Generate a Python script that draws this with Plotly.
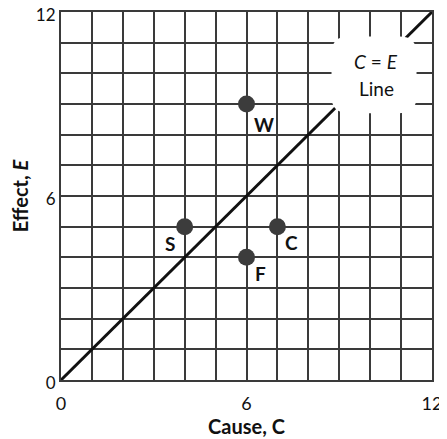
import plotly.graph_objects as go

# Data
cause = [6, 4, 7, 6]
effect = [9, 5, 5, 4]
labels = ["W", "S", "C", "F"]
label_dx = [17, -15, 14, 14]
label_dy = [-20, -17, -16, -16]
line_c = [0, 12]
line_e = [0, 12]
x_ticks = [0, 6, 12]
y_ticks = [0, 6, 12]

FONT = "Lato, 'Open Sans', sans-serif"
GRID = "#3a3a3a"

fig = go.Figure()
fig.add_trace(go.Scatter(x=line_c, y=line_e, mode="lines",
                         line=dict(color="#111111", width=3), hoverinfo="skip"))
fig.add_trace(go.Scatter(x=cause, y=effect, mode="markers",
                         marker=dict(size=17, color="#3c3c3c"), hoverinfo="skip"))

for c, e, t, dx, dy in zip(cause, effect, labels, label_dx, label_dy):
    fig.add_annotation(x=c, y=e, text="<b>%s</b>" % t, showarrow=False,
                       xshift=dx, yshift=dy,
                       font=dict(family=FONT, size=19, color="#111111"))

# white legend blob covering grid
x0, x1, y0, y1, r = 8.75, 11.5, 8.7, 11.2, 0.55
path = (f"M {x0+r},{y0} L {x1-r},{y0} Q {x1},{y0} {x1},{y0+r} "
        f"L {x1},{y1-r} Q {x1},{y1} {x1-r},{y1} L {x0+r},{y1} "
        f"Q {x0},{y1} {x0},{y1-r} L {x0},{y0+r} Q {x0},{y0} {x0+r},{y0} Z")
fig.add_shape(type="path", path=path, fillcolor="white", line=dict(width=0),
              layer="above")
fig.add_annotation(x=10.2, y=10.37, text="<i>C</i> = <i>E</i>", showarrow=False,
                   font=dict(family=FONT, size=19, color="#111111"))
fig.add_annotation(x=10.2, y=9.52, text="Line", showarrow=False,
                   font=dict(family=FONT, size=19, color="#111111"))

# page body has an 8px default margin, so the figure is sized to fit inside it
fig.update_layout(
    width=439, height=431,
    margin=dict(l=53, r=15, t=4, b=59, autoexpand=False),
    paper_bgcolor="white", plot_bgcolor="white",
    showlegend=False,
    font=dict(family=FONT, size=18, color="#111111"),
)
fig.update_xaxes(range=[0, 12], showgrid=True, gridcolor=GRID,
                 gridwidth=2, showline=True, linecolor=GRID, linewidth=2, mirror=True,
                 zeroline=False, tickmode="array", tickvals=x_ticks,
                 ticktext=[str(v) for v in x_ticks], ticks="", ticklabelstandoff=6,
                 tickfont=dict(size=18), automargin=False, ticklabeloverflow="allow",
                 title=dict(text="<b>Cause, C</b>", font=dict(size=20), standoff=2))
fig.update_yaxes(range=[0, 12], showgrid=True, gridcolor=GRID,
                 gridwidth=2, showline=True, linecolor=GRID, linewidth=2, mirror=True,
                 zeroline=False, tickmode="array", tickvals=y_ticks,
                 ticktext=[str(v) for v in y_ticks], ticks="", ticklabelshift=3,
                 tickfont=dict(size=17), automargin=False, ticklabeloverflow="allow",
                 title=dict(text="<b>Effect, <i>E</i></b>", font=dict(size=20), standoff=5))
fig.update_xaxes(minor=dict(dtick=1, showgrid=True, gridcolor=GRID, gridwidth=2))
fig.update_yaxes(minor=dict(dtick=1, showgrid=True, gridcolor=GRID, gridwidth=2))

fig.write_html("out.html")
